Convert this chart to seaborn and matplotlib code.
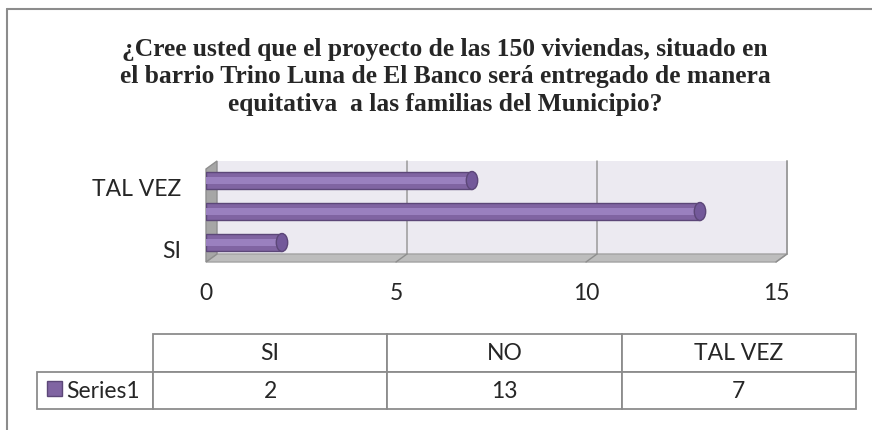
import numpy as np
import matplotlib.pyplot as plt
import matplotlib.transforms as mtransforms
from matplotlib.patches import Polygon, Rectangle, Ellipse
import seaborn as sns

# Datos del gráfico
categorias = ['SI', 'NO', 'TAL VEZ']
valores = [2, 13, 7]
serie = 'Series1'
titulo = ('¿Cree usted que el proyecto de las 150 viviendas, situado en\n'
          'el barrio Trino Luna de El Banco será entregado de manera\n'
          'equitativa  a las familias del Municipio?')
ticks_x = [0, 5, 10, 15]

sns.set_style('white')
plt.rcParams['font.family'] = ['Lato', 'DejaVu Sans']

morado = '#8064A2'
borde = '#5C4778'
gris = '#8C8C8C'

W, H = 872, 431
fig = plt.figure(figsize=(W / 100, H / 100), dpi=100)

def caja(x0, y0, x1, y1):
    # posición en píxeles (origen arriba a la izquierda) -> fracción de figura
    return [x0 / W, 1 - y1 / H, (x1 - x0) / W, (y1 - y0) / H]

def pf(x, y):
    return (x / W, 1 - y / H)

def poligono(puntos, **kw):
    fig.add_artist(Polygon([pf(x, y) for x, y in puntos], closed=True,
                           transform=fig.transFigure, **kw))

# marco exterior
fig.add_artist(plt.Line2D([7 / W, 1], [1 - 10 / H, 1 - 10 / H], color=gris, lw=1.5))
fig.add_artist(plt.Line2D([7 / W, 7 / W], [0, 1 - 10 / H], color=gris, lw=1.5))

fig.text(445 / W, 1 - 77 / H, titulo, ha='center', va='center', multialignment='center',
         fontsize=18.4, fontweight='bold', family='Liberation Serif', linespacing=1.25)

# efecto 3D: pared de fondo, suelo y pared lateral (dx, dy = profundidad)
x0, x1, y0, y1 = 206, 776, 170, 263
dx, dy = 11, 8
poligono([(x0 + dx, y0 - dy), (x1 + dx, y0 - dy), (x1 + dx, y1 - dy), (x0 + dx, y1 - dy)],
         facecolor='#ECEAF1', edgecolor='none', zorder=0)
fig.add_artist(plt.Line2D([(x1 + dx) / W] * 2, [1 - (y0 - dy) / H, 1 - (y1 - dy) / H],
                          color='#A8A8A8', lw=1.2, zorder=1))
poligono([(x0, y1), (x1, y1), (x1 + dx, y1 - dy), (x0 + dx, y1 - dy)],
         facecolor='#BDBDBD', edgecolor='#A3A3A3', lw=1, zorder=1)
poligono([(x0, y0), (x0 + dx, y0 - dy), (x0 + dx, y1 - dy), (x0, y1)],
         facecolor='#A6A6A6', edgecolor='#8E8E8E', lw=1, zorder=1)

# área del gráfico
ax = fig.add_axes(caja(x0, y0 - 4, x1, y1 - 4))
ax.patch.set_alpha(0)
ax.set_zorder(2)

orden = ['TAL VEZ', 'NO', 'SI']
sns.barplot(x=valores, y=categorias, order=orden, orient='h', color=morado,
            width=0.58, edgecolor=borde, linewidth=1.0, saturation=1, ax=ax)
barras = list(ax.patches)
sns.barplot(x=valores, y=categorias, order=orden, orient='h', color='#9A80BF',
            width=0.2, linewidth=0, saturation=1, ax=ax)

# extremos redondeados de las barras
for b in barras:
    ax.add_patch(Ellipse((b.get_x() + b.get_width(), b.get_y() + b.get_height() / 2),
                         0.3, b.get_height(), facecolor='#73599A', edgecolor=borde,
                         lw=1.0, zorder=3, clip_on=False))

ax.set_xlim(0, 15)
ax.set_xticks(ticks_x)
ax.set_yticks(range(len(orden)))
ax.set_yticklabels(['TAL VEZ', '', 'SI'])
ax.tick_params(axis='y', length=0, pad=18, labelsize=16.5)
ax.tick_params(axis='x', length=0, pad=17, labelsize=16.5)
ax.set_xlabel('')
ax.set_ylabel('')
for s in ax.spines.values():
    s.set_visible(False)
baja = mtransforms.ScaledTranslation(0, -6 / 100, fig.dpi_scale_trans)
for lab in ax.get_yticklabels():
    lab.set_transform(lab.get_transform() + baja)

# líneas de división en la pared de fondo y en el suelo
fig.canvas.draw()
for t in ticks_x[1:]:
    xs = ax.transData.transform((t, 0))[0]
    fig.add_artist(plt.Line2D([(xs + dx) / W] * 2, [1 - (y0 - dy) / H, 1 - (y1 - dy) / H],
                              color='#9A9A9A', lw=1.1, zorder=1))
    fig.add_artist(plt.Line2D([(xs + dx) / W, xs / W], [1 - (y1 - dy) / H, 1 - y1 / H],
                              color='#8E8E8E', lw=1.0, zorder=1))

# tabla de datos
tab = fig.add_axes(caja(37, 335, 856, 410))
tab.axis('off')
texto = [[''] + categorias, [serie] + [str(v) for v in valores]]
anchos = [116 / 819] + [234.3 / 819] * 3
t = tab.table(cellText=texto, colWidths=anchos, bbox=[0, 0, 1, 1], cellLoc='center')
t.auto_set_font_size(False)
for (r, c), celda in t.get_celld().items():
    celda.set_edgecolor(gris)
    celda.set_linewidth(1.3)
    celda.get_text().set_fontsize(16.5)
    if r == 0 and c == 0:
        celda.visible_edges = ''
    if r == 1 and c == 0:
        celda.get_text().set_ha('left')
        celda.PAD = 0.25
tab.add_patch(Rectangle((10 / 819, 0.173), 15 / 819, 0.2, transform=tab.transAxes,
                        facecolor=morado, edgecolor=borde, lw=1, zorder=5))

fig.savefig('out.png', dpi=100)
